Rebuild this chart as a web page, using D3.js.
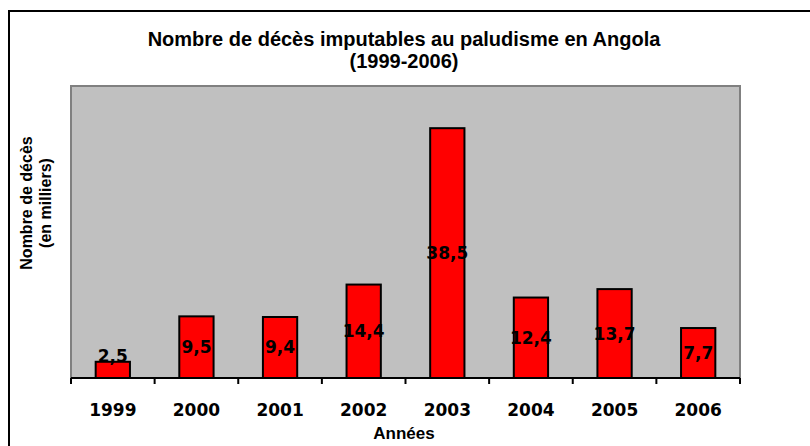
<!DOCTYPE html>
<html><head><meta charset="utf-8">
<script src="https://cdn.jsdelivr.net/npm/d3@7"></script>
<style>body{margin:0;background:#fff}</style>
</head><body>
<script>
const years = ["1999","2000","2001","2002","2003","2004","2005","2006"];
const deaths = [2.5, 9.5, 9.4, 14.4, 38.5, 12.4, 13.7, 7.7];
const valueLabels = ["2,5","9,5","9,4","14,4","38,5","12,4","13,7","7,7"];
const titleLines = ["Nombre de décès imputables au paludisme en Angola","(1999-2006)"];
const yTitleLines = ["Nombre de décès","(en milliers)"];
const xTitle = "Années";

const W = 810, H = 446;
const svg = d3.select("body").append("svg").attr("width", W).attr("height", H);

// outer chart border
svg.append("rect").attr("x", 9).attr("y", 11).attr("width", W + 20).attr("height", H + 20)
  .attr("fill", "#fff").attr("stroke", "#000").attr("stroke-width", 2);

const m = {left: 71, top: 86, right: 740, bottom: 378};
const x = d3.scaleBand().domain(years).range([m.left, m.right]).paddingInner(0.59).paddingOuter(0.295);
const xb = d3.scaleBand().domain(years).range([m.left, m.right]);
const y = d3.scaleLinear().domain([0, 45]).range([m.bottom, m.top]);

svg.append("rect").attr("x", m.left).attr("y", m.top)
  .attr("width", m.right - m.left).attr("height", m.bottom - m.top)
  .attr("fill", "#C0C0C0").attr("stroke", "#808080").attr("stroke-width", 2);

svg.selectAll("rect.bar").data(deaths).join("rect").attr("class", "bar")
  .attr("x", (d, i) => x(years[i])).attr("width", x.bandwidth())
  .attr("y", d => y(d)).attr("height", d => y(0) - y(d))
  .attr("fill", "#FF0000").attr("stroke", "#000").attr("stroke-width", 2);

// x axis with boundary ticks
const axisG = svg.append("g").attr("transform", `translate(0,${m.bottom})`);
axisG.append("line").attr("x1", m.left).attr("x2", m.right).attr("stroke", "#000").attr("stroke-width", 2);
const bounds = years.map(yy => xb(yy)).concat([m.right]);
axisG.selectAll("line.tick").data(bounds).join("line").attr("class", "tick")
  .attr("x1", d => d).attr("x2", d => d).attr("y1", 0).attr("y2", 6)
  .attr("stroke", "#000").attr("stroke-width", 2);
axisG.selectAll("text").data(years).join("text")
  .attr("x", d => xb(d) + xb.bandwidth() / 2).attr("y", 38)
  .attr("text-anchor", "middle")
  .style("font-family", "DejaVu Sans").style("font-weight", "bold").style("font-size", "17px")
  .text(d => d);

// value labels
svg.selectAll("text.val").data(deaths).join("text").attr("class", "val")
  .attr("x", (d, i) => x(years[i]) + x.bandwidth() / 2)
  .attr("y", d => Math.min(y(d / 2), y(0) - 22))
  .attr("dy", "0.35em").attr("text-anchor", "middle")
  .style("font-family", "DejaVu Sans").style("font-weight", "bold").style("font-size", "17px")
  .text((d, i) => valueLabels[i]);

// title
svg.append("g").selectAll("text").data(titleLines).join("text")
  .attr("x", 404).attr("y", (d, i) => 46 + i * 22)
  .attr("text-anchor", "middle")
  .style("font-family", "Liberation Sans, Arial").style("font-weight", "bold").style("font-size", "20px")
  .text(d => d);

// x title
svg.append("text").attr("x", 404).attr("y", 439).attr("text-anchor", "middle")
  .style("font-family", "Liberation Sans, Arial").style("font-weight", "bold").style("font-size", "17px")
  .text(xTitle);

// y title
svg.append("g").attr("transform", "translate(0,203) rotate(-90)")
  .selectAll("text").data(yTitleLines).join("text")
  .attr("x", 0).attr("y", (d, i) => 32 + i * 19)
  .attr("text-anchor", "middle")
  .style("font-family", "Liberation Sans, Arial").style("font-weight", "bold").style("font-size", "16px")
  .text(d => d);
</script>
</body></html>
